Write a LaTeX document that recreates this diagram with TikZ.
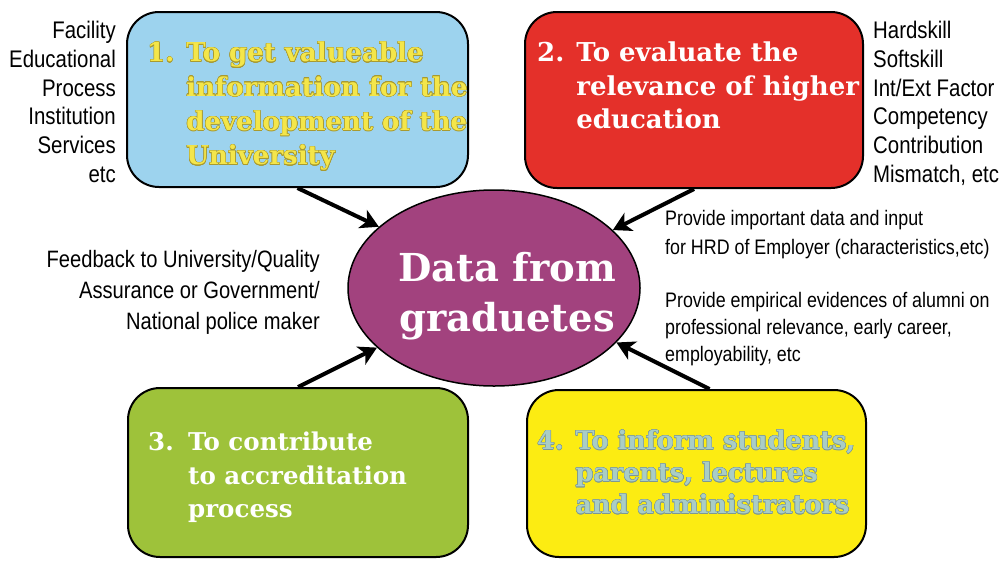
\documentclass[tikz,border=0pt]{standalone}
\usepackage{fontspec}
\usepackage[copies]{contour}
\usetikzlibrary{shapes.geometric,arrows.meta}
\setmainfont{Liberation Sans}
\newfontfamily\sideF[FakeStretch=0.85]{Liberation Sans}
\newfontfamily\slabF{DejaVu Serif}
\definecolor{bBlue}{HTML}{9DD3EE}
\definecolor{bRed}{HTML}{E4302A}
\definecolor{bGreen}{HTML}{9EC23A}
\definecolor{bYellow}{HTML}{FCEC12}
\definecolor{bPurple}{HTML}{A2427E}
\definecolor{tYellow}{HTML}{F4E64A}
\definecolor{tYellowO}{HTML}{A89A30}
\definecolor{tTeal}{HTML}{A9CDC6}
\definecolor{tTealO}{HTML}{7C9894}
\contourlength{0.45pt}
\newcommand{\yl}[1]{\contour{tYellowO}{\textcolor{tYellow}{#1}}}
\newcommand{\tl}[1]{\contour{tTealO}{\textcolor{tTeal}{#1}}}
\begin{document}
\begin{tikzpicture}[x=1pt,y=-1pt,
  goal/.style={draw=black,line width=2pt,rounded corners=32pt,inner sep=0pt},
  arr/.style={line width=4pt,-{Stealth[length=18pt,width=20pt,inset=5pt]}},
  side/.style={inner sep=0pt,font=\sideF\fontsize{24}{28.8}\selectfont},
  note/.style={inner sep=0pt,font=\sideF\fontsize{21}{28}\selectfont},
  slab/.style={inner sep=0pt,anchor=north west,align=left,font=\slabF\bfseries\fontsize{26}{34.3}\selectfont}]
\useasboundingbox[fill=white] (0,0) rectangle (1000,560);
% goal boxes
\node[goal,fill=bBlue,minimum width=341,minimum height=175] (b1) at (297.5,99.5) {};
\node[goal,fill=bRed,minimum width=338,minimum height=176] (b2) at (694,100) {};
\node[goal,fill=bGreen,minimum width=340,minimum height=169] (b3) at (298,472.5) {};
\node[goal,fill=bYellow,minimum width=339,minimum height=167] (b4) at (696.5,473.5) {};
% centre
\node[ellipse,draw=black,line width=1.5pt,fill=bPurple,minimum width=292,minimum height=196,inner sep=0pt] (el) at (494,288) {};
\node[inner sep=0pt,align=center,text=white,font=\slabF\bfseries\fontsize{38.5}{50}\selectfont] (eltext) at (507,296) {Data from\\graduetes};
% box texts
\node[slab] (t1) at (147,42) {\yl{1. To get valueable}\\\hphantom{1. }\yl{information for the}\\\hphantom{1. }\yl{development of the}\\\hphantom{1. }\yl{University}};
\node[slab,text=white,font=\slabF\bfseries\fontsize{26}{33.5}\selectfont] (t2) at (537,42) {2. To evaluate the\\\hphantom{2. }relevance of higher\\\hphantom{2. }education};
\node[slab,text=white,font=\slabF\bfseries\fontsize{24.5}{33.5}\selectfont] (t3) at (148,432) {\makebox[40pt][l]{3.}To contribute\\\hspace*{40pt}to accreditation\\\hspace*{40pt}process};
\node[slab,font=\slabF\bfseries\fontsize{25.5}{32}\selectfont] (t4) at (537,430) {\tl{4. To inform students,}\\\hphantom{4. }\tl{parents, lectures}\\\hphantom{4. }\tl{and administrators}};
% side texts
\node[side,anchor=north east,align=right] (lst1) at (116,21) {Facility\\Educational\\Process\\Institution\\Services\\etc};
\node[side,anchor=north west,align=left] (lst2) at (873,21) {Hardskill\\Softskill\\Int/Ext Factor\\Competency\\Contribution\\Mismatch, etc};
\node[inner sep=0pt,anchor=north east,align=right,font=\sideF\fontsize{23.7}{31}\selectfont] (fb) at (320,250) {Feedback to University/Quality\\Assurance or Government/\\National police maker};
\node[note,anchor=north west,align=left,font=\sideF\fontsize{21}{29}\selectfont] (pr1) at (665,210) {Provide important data and input\\for HRD of Employer (characteristics,etc)};
\node[note,anchor=north west,align=left,font=\sideF\fontsize{21}{27}\selectfont] (pr2) at (665,292) {Provide empirical evidences of alumni on\\professional relevance, early career,\\employability, etc};
% arrows
\draw[arr] (b1.south) -- (el.152);
\draw[arr] (b2.south) -- (el.26);
\draw[arr] (b3.north) -- (el.207);
\draw[arr] ([xshift=13pt]b4.north) -- (el.-24);
\end{tikzpicture}
\end{document}
